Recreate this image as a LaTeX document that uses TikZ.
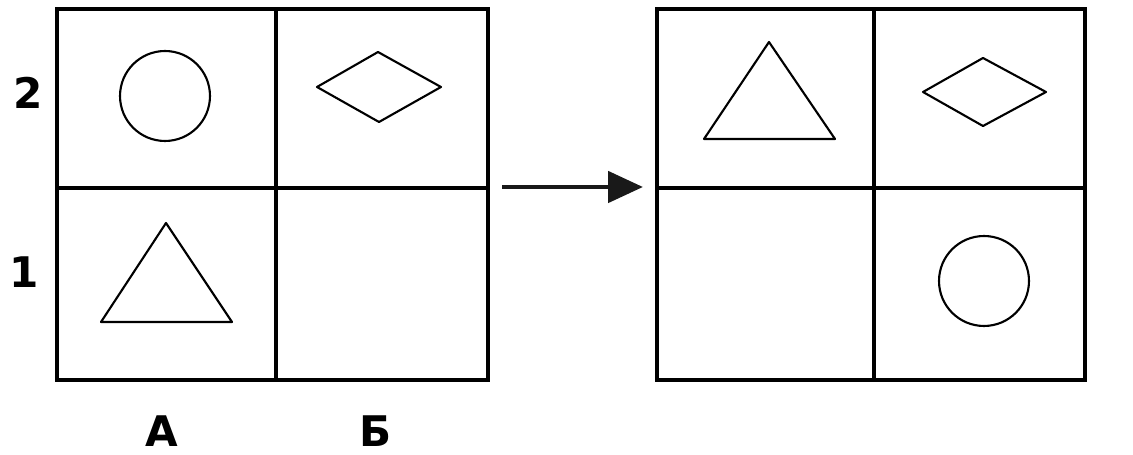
\documentclass[tikz,border=0pt]{standalone}
\usepackage{fontspec}
\setmainfont{DejaVu Sans}
\usetikzlibrary{arrows.meta, positioning}

\begin{document}
\begin{tikzpicture}[
    x=0.02cm, y=-0.02cm,
    grid/.style={
        rectangle, draw=black, line width=1.8pt, inner sep=0pt,
        minimum height=7.42cm
    },
    gridline/.style={draw=black, line width=1.8pt},
    figure/.style={draw=black, line width=1.2pt, line join=round},
    label/.style={font=\fontsize{24}{28}\selectfont\bfseries, inner sep=0pt},
    move/.style={draw, -{Triangle[length=0.7cm, width=0.62cm]}, line width=2.8pt, color=black!90}
]
    \useasboundingbox (0,0) rectangle (1133,455);

    % left board
    \node [grid, minimum width=8.62cm] (leftgrid)  at (272.5,194.5) {};
    \draw [gridline] (276,9) -- (276,380);
    \draw [gridline] (57,188) -- (488,188);

    \node [label] (row2) at (28,93)  {2};
    \node [label] (row1) at (24,272) {1};
    \node [label] (colA) at (162,431) {А};
    \node [label] (colB) at (376,431) {Б};

    \draw [figure] (165,96) circle[radius=0.9cm];
    \draw [figure] (317,87) -- (378,52) -- (441,87) -- (379,122) -- cycle;
    \draw [figure] (166,223) -- (232,322) -- (101,322) -- cycle;

    % right board
    \node [grid, minimum width=8.56cm] (rightgrid) at (871,194.5) {};
    \draw [gridline] (874,9) -- (874,380);
    \draw [gridline] (657,188) -- (1085,188);

    \draw [figure] (769,42) -- (835,139) -- (704,139) -- cycle;
    \draw [figure] (923,92) -- (983,58) -- (1046,92) -- (983,126) -- cycle;
    \draw [figure] (984,281) circle[radius=0.9cm];

    % move
    \coordinate (from) at (502,187);
    \coordinate (to)   at (643,187);
    \path [move] (from) -- (to);
\end{tikzpicture}
\end{document}
